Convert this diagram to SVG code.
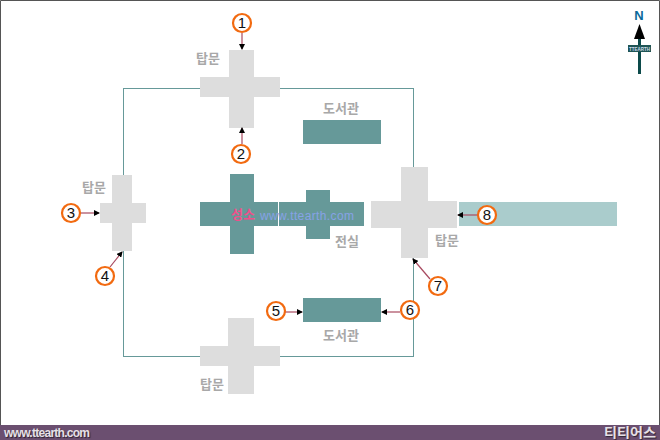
<svg xmlns="http://www.w3.org/2000/svg" width="660" height="440" viewBox="0 0 660 440">
<style>
.g{fill:#dddddd}.t{fill:#669999}
.l{font:bold 13px "Noto Sans CJK KR","Liberation Sans",sans-serif;fill:#a8a8a8;text-anchor:middle}
.c{fill:#fff;stroke:#f26a10;stroke-width:2.2}
.n{font:15px "Liberation Sans",sans-serif;fill:#111;text-anchor:middle}
.a{stroke:#a84a60;stroke-width:1.2;fill:none;marker-end:url(#ah)}
.f{text-shadow:1px 1px 1px #2f2433}
</style>
<defs><marker id="ah" markerWidth="6" markerHeight="6" refX="5" refY="3" orient="auto" markerUnits="userSpaceOnUse"><path d="M0 0L6 3L0 6Z" fill="#000"/></marker></defs>
<rect width="660" height="440" fill="#fff"/>
<path d="M.5 440V.5H659.5V440" fill="none" stroke="#555"/>
<rect y="425" width="660" height="15" fill="#6b4f70"/>
<rect id="wall" x="123.5" y="88.5" width="290" height="268" fill="none" stroke="#669999"/>
<rect x="459" y="202" width="158" height="24" fill="#aacccc"/>
<g id="gate-n"><path class="g" d="M229 50h25v27h26v20h-26v31h-25v-31h-29v-20h29z"/><text class="l" x="208" y="63">탑문</text></g>
<g id="gate-w"><path class="g" d="M112 175h20v28h14v20h-14v28h-20v-28h-12v-20h12z"/><text class="l" x="94" y="192">탑문</text></g>
<g id="gate-e"><path class="g" d="M401 167h27v34h29v27h-29v30h-27v-30h-30v-27h30z"/><text class="l" x="447" y="245">탑문</text></g>
<g id="gate-s"><path class="g" d="M228 318h26v28h26v20h-26v28h-26v-28h-28v-20h28z"/><text class="l" x="212" y="389">탑문</text></g>
<g id="library-n"><rect class="t" x="303" y="120" width="78" height="24"/><text class="l" x="341" y="113">도서관</text></g>
<g id="library-s"><rect class="t" x="303" y="298" width="78" height="24"/><text class="l" x="341" y="340">도서관</text></g>
<g id="hall"><path class="t" d="M230 174h24v28h24v24h-24v28h-24v-28h-30v-24h30z"/><path class="t" d="M279 202h27v-12h24v12h34v24h-34v13h-24v-13h-27z"/><text class="l" x="347" y="246">전실</text>
<text x="243" y="219" font-family="'Noto Sans CJK KR',sans-serif" font-size="13" font-weight="bold" fill="#f0508a" text-anchor="middle">성소</text>
<text x="260" y="220" font-family="'Liberation Sans',sans-serif" font-size="12" fill="#86a2e6" textLength="94">www.ttearth.com</text></g>
<g id="connectors">
<path class="a" d="M242 33V49"/><path class="a" d="M242 144V128"/><path class="a" d="M81 213H99"/><path class="a" d="M110 267L122 252"/>
<path class="a" d="M285 312H302"/><path class="a" d="M400 312H382"/><path class="a" d="M430 279L413 259"/><path class="a" d="M478 215H458"/>
</g>
<g id="m1"><circle class="c" cx="242" cy="23" r="9"/><text class="n" x="242" y="28">1</text></g>
<g id="m2"><circle class="c" cx="241" cy="154" r="9"/><text class="n" x="241" y="159">2</text></g>
<g id="m3"><circle class="c" cx="71" cy="213" r="9"/><text class="n" x="71" y="218">3</text></g>
<g id="m4"><circle class="c" cx="105" cy="276" r="9"/><text class="n" x="105" y="281">4</text></g>
<g id="m5"><circle class="c" cx="276" cy="311" r="9"/><text class="n" x="276" y="316">5</text></g>
<g id="m6"><circle class="c" cx="410" cy="310" r="9"/><text class="n" x="410" y="315">6</text></g>
<g id="m7"><circle class="c" cx="438" cy="286" r="9"/><text class="n" x="438" y="291">7</text></g>
<g id="m8"><circle class="c" cx="487" cy="215" r="9"/><text class="n" x="487" y="220">8</text></g>
<g id="north">
<text x="639" y="19.500" font-family="'Liberation Sans',sans-serif" font-size="13" font-weight="bold" fill="#0a6a9a" text-anchor="middle">N</text>
<rect x="638" y="38" width="3" height="36" fill="#0c4a4a"/><path d="M639.500 24L645 39H634Z" fill="#000"/>
<rect x="628" y="45" width="23" height="7" fill="#1f5555"/>
<text x="639.500" y="51" font-family="'Liberation Sans',sans-serif" font-size="6" font-weight="bold" fill="#cde" text-anchor="middle" textLength="21" lengthAdjust="spacingAndGlyphs">TTEARTH</text>
</g>
<text class="f" x="4" y="437" font-family="'Liberation Sans',sans-serif" font-size="12" font-weight="bold" fill="#e6e0e6" textLength="86">www.ttearth.com</text>
<text class="f" x="604" y="437" font-family="'Noto Sans CJK KR',sans-serif" font-size="13" font-weight="bold" fill="#e6e0e6" textLength="52" lengthAdjust="spacingAndGlyphs">티티어스</text>
</svg>
